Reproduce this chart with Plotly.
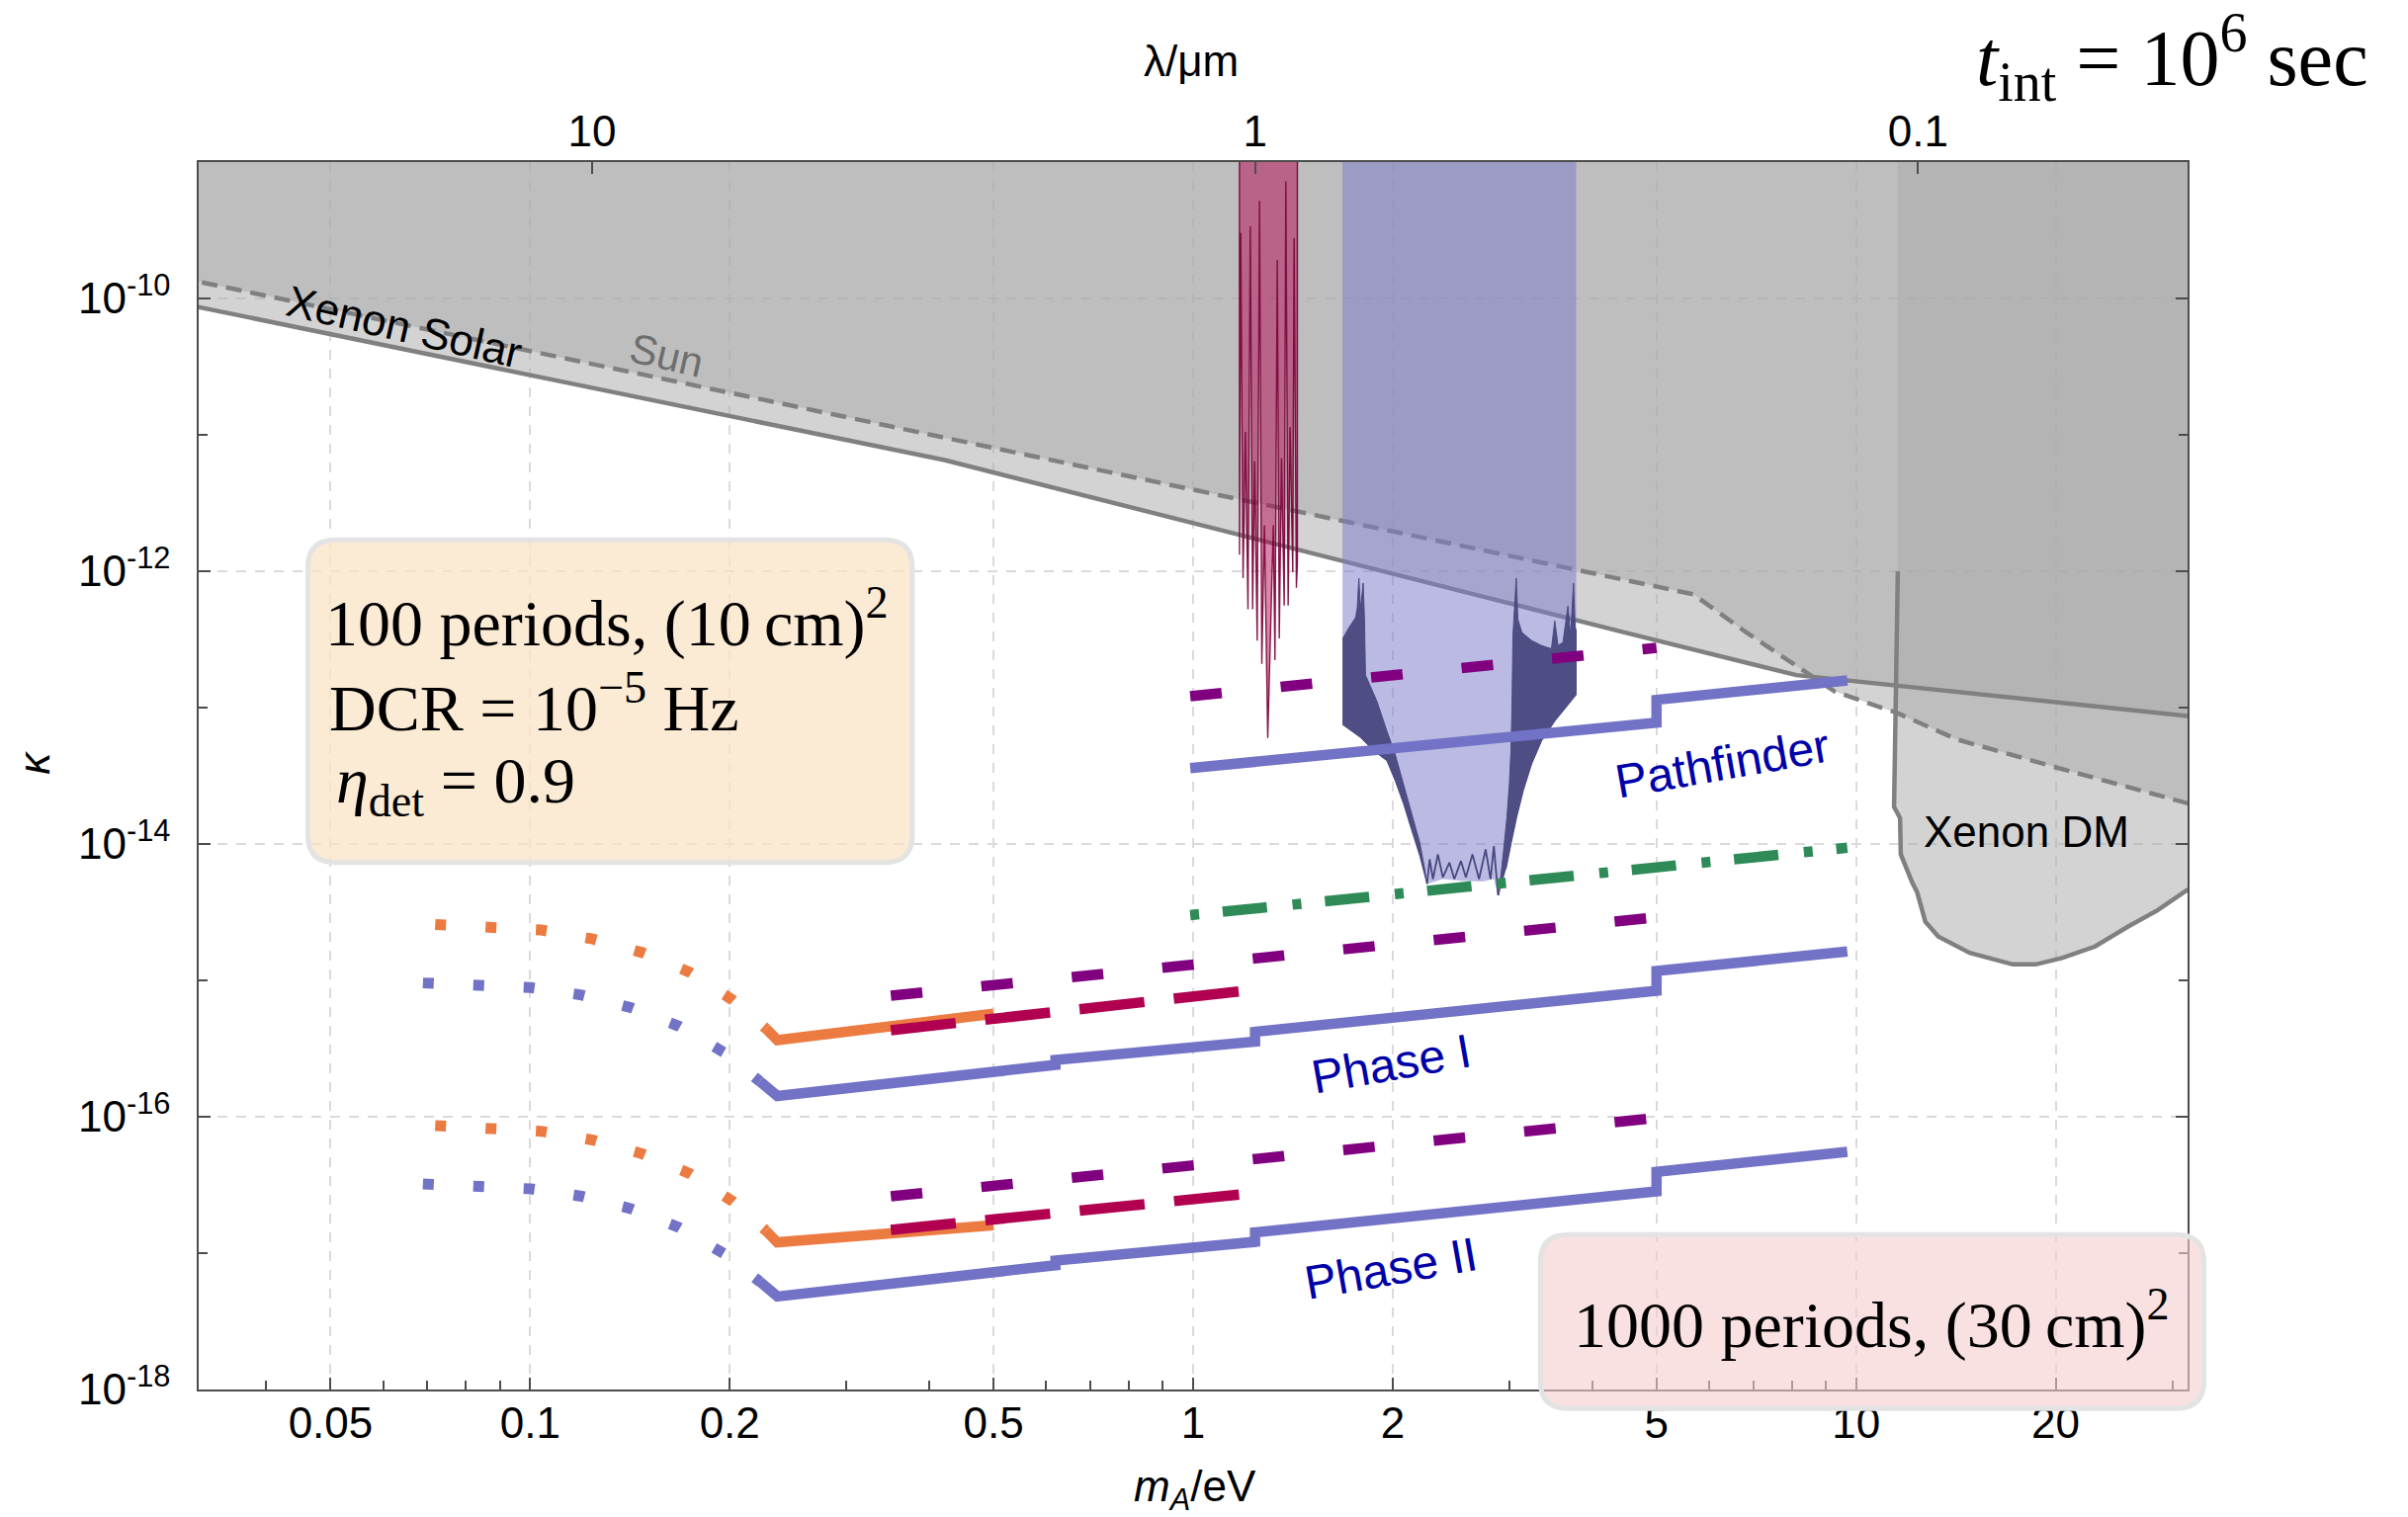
import math
import plotly.graph_objects as go

HC_EV_UM = 1.2398          # lambda[um] = HC / m[eV]
K_TOP = 2e-9               # polygons are closed above the plotted range

# ---------------- existing bounds ----------------
solar_m = [0.0294, 0.4217, 4.47, 8.13, 33.0]
solar_k = [9.3e-11, 6.53e-12, 3.56e-13, 1.73e-13, 8.5e-14]

sun_m = [0.0294, 5.68, 6.83, 9.29, 11.53, 14.18, 19.97, 33.0]
sun_k = [1.43e-10, 6.78e-13, 3.56e-13, 1.31e-13, 9.14e-14, 5.85e-14, 3.66e-14, 1.88e-14]

dm_m = [11.56, 11.41, 11.65, 11.68, 12.15, 12.36, 12.72, 13.31, 14.84, 17.23,
        18.66, 20.44, 22.93, 25.69, 28.48, 31.5, 33.0]
dm_k = [1.0e-12, 1.87e-14, 1.55e-14, 8.40e-15, 5.24e-15, 4.44e-15, 2.69e-15, 2.09e-15,
        1.59e-15, 1.31e-15, 1.31e-15, 1.46e-15, 1.77e-15, 2.47e-15, 3.26e-15, 4.56e-15, 4.9e-15]

# narrow-band exclusion (oscillating lower edge)
red_m = [1.1745, 1.1799, 1.1894, 1.1990, 1.2099, 1.2196, 1.2295, 1.2379, 1.2493, 1.2594,
         1.2695, 1.2811, 1.2958, 1.3213, 1.3288, 1.3395, 1.3488, 1.3595, 1.3721, 1.3799,
         1.3910, 1.4006, 1.4135, 1.4199, 1.4315, 1.4364]
red_k = [1.32e-12, 3.02e-10, 8.89e-13, 1.05e-11, 5.26e-13, 3.38e-10, 5.26e-13, 6.41e-12, 3.10e-13, 5.19e-10,
         2.09e-13, 2.17e-12, 5.98e-14, 2.17e-12, 2.23e-13, 1.91e-10, 3.21e-13, 6.72e-12, 5.61e-13, 7.21e-10,
         5.61e-13, 1.14e-11, 9.82e-13, 2.77e-10, 7.55e-13, 1.16e-12]

# broad-band exclusion: outer edge
blue_m = [1.6797, 1.7886, 1.8723, 1.9600, 2.0168, 2.0752, 2.1355, 2.1974, 2.2353, 2.2533,
          2.3804, 2.5494, 2.7304, 2.8419, 2.8844, 2.9647, 3.0194, 3.0787, 3.1498, 3.2412,
          3.3546, 3.5114, 3.7824]
blue_k = [7.52e-14, 6.03e-14, 4.82e-14, 4.08e-14, 2.92e-14, 1.99e-14, 1.27e-14, 8.17e-15, 5.85e-15, 5.09e-15,
          5.53e-15, 5.38e-15, 5.30e-15, 5.53e-15, 4.20e-15, 6.54e-15, 1.02e-14, 1.59e-14, 2.48e-14, 3.86e-14,
          5.70e-14, 7.95e-14, 1.24e-13]
# dense-oscillation bands of the broad-band edge
blue_band_l_m = [1.6797, 1.7185, 1.7582, 1.7683, 1.7784, 1.7886, 1.8050, 1.8133, 1.8196, 1.8938,
                 1.9600, 2.0168, 2.0752, 2.1355, 2.1974, 2.2353, 2.2533, 2.1974, 2.1355, 2.0752,
                 2.0168, 1.9600, 1.8723, 1.7886, 1.6797]
blue_band_l_k = [3.18e-13, 3.87e-13, 4.57e-13, 5.40e-13, 8.89e-13, 5.25e-13, 8.18e-13, 4.45e-13, 1.73e-13, 1.11e-13,
                 6.73e-14, 4.56e-14, 2.77e-14, 1.68e-14, 1.02e-14, 6.54e-15, 5.09e-15, 8.17e-15, 1.27e-14, 1.99e-14,
                 2.92e-14, 4.08e-14, 4.82e-14, 6.03e-14, 7.52e-14]
blue_band_r_m = [2.8907, 2.9410, 2.9748, 2.9992, 3.0159, 3.0263, 3.0366, 3.0717, 3.0893, 3.1320,
                 3.2412, 3.3546, 3.4715, 3.5114, 3.5517, 3.6132, 3.6757, 3.7096, 3.7479, 3.7694,
                 3.7824, 3.7824, 3.5114, 3.3546, 3.2412, 3.1498, 3.0787, 3.0194, 2.9647]
blue_band_r_k = [4.20e-15, 9.12e-15, 1.59e-14, 2.77e-14, 4.82e-14, 9.93e-14, 3.37e-13, 8.89e-13, 4.45e-13, 3.56e-13,
                 3.10e-13, 2.85e-13, 2.70e-13, 4.33e-13, 2.85e-13, 3.01e-13, 5.55e-13, 3.37e-13, 8.18e-13, 3.76e-13,
                 3.76e-13, 1.24e-13, 7.95e-14, 5.70e-14, 3.86e-14, 2.48e-14, 1.59e-14, 1.02e-14, 6.54e-15]
blue_floor_m = [2.2533, 2.2740, 2.3001, 2.3399, 2.3804, 2.4355, 2.4776, 2.5349, 2.5787, 2.6384,
                2.6994, 2.7618, 2.8096, 2.8419, 2.8844]
blue_floor_k = [5.09e-15, 7.72e-15, 5.53e-15, 8.39e-15, 5.69e-15, 7.31e-15, 5.53e-15, 7.51e-15, 5.69e-15, 8.39e-15,
                5.53e-15, 9.12e-15, 5.53e-15, 9.64e-15, 4.20e-15]

# ---------------- projected sensitivities ----------------
pf_m = [0.99, 5.0, 5.0, 9.7]
pf_k = [3.60e-14, 7.76e-14, 1.14e-13, 1.58e-13]

ph_m = [0.222, 0.236, 0.62, 0.62, 1.24, 1.24, 5.0, 5.0, 9.7]
ph1_k = [1.82e-16, 1.42e-16, 2.40e-16, 2.61e-16, 3.56e-16, 4.19e-16, 8.40e-16, 1.17e-15, 1.63e-15]
ph2_k = [6.18e-18, 4.81e-18, 8.15e-18, 8.83e-18, 1.21e-17, 1.42e-17, 2.84e-17, 3.95e-17, 5.53e-17]

or_m = [0.2268, 0.236, 0.50]
or1_k = [4.43e-16, 3.65e-16, 5.69e-16]
or2_k = [1.46e-17, 1.20e-17, 1.60e-17]

or_dot_m = [0.0719, 0.0872, 0.1039, 0.1243, 0.1475, 0.1745, 0.2020, 0.2268]
or1_dot_k = [2.57e-15, 2.49e-15, 2.34e-15, 2.01e-15, 1.60e-15, 1.14e-15, 7.18e-16, 4.43e-16]
or2_dot_k = [8.61e-17, 8.34e-17, 7.83e-17, 6.75e-17, 5.35e-17, 3.81e-17, 2.40e-17, 1.46e-17]

bl_dot_m = [0.0689, 0.0834, 0.1003, 0.1196, 0.1417, 0.1678, 0.1959, 0.222]
bl1_dot_k = [9.57e-16, 9.40e-16, 8.85e-16, 7.80e-16, 6.32e-16, 4.60e-16, 2.97e-16, 1.82e-16]
bl2_dot_k = [3.21e-17, 3.15e-17, 2.96e-17, 2.61e-17, 2.12e-17, 1.54e-17, 9.93e-18, 6.18e-18]

cr_m = [0.35, 1.2]
cr1_k = [4.31e-16, 8.40e-16]
cr2_k = [1.48e-17, 2.72e-17]

pu_m = [0.35, 5.0]
pu1_k = [7.73e-16, 2.90e-15]
pu2_k = [2.61e-17, 9.80e-17]
pu_pf_m = [0.99, 5.0]
pu_pf_k = [1.21e-13, 2.74e-13]

gr_m = [0.99, 9.7]
gr_k = [3.01e-15, 9.38e-15]

# ---------------- axis ticks ----------------
x_ticks = [0.05, 0.1, 0.2, 0.5, 1, 2, 5, 10, 20]
x_ticktext = ["0.05", "0.1", "0.2", "0.5", "1", "2", "5", "10", "20"]
x_minor = [0.04, 0.06, 0.07, 0.08, 0.09, 0.3, 0.4, 0.6, 0.7, 0.8, 0.9,
           3, 4, 6, 7, 8, 9, 30]
y_ticks = [1e-18, 1e-16, 1e-14, 1e-12, 1e-10]
y_ticktext = ["10<sup>-18</sup>", "10<sup>-16</sup>", "10<sup>-14</sup>",
              "10<sup>-12</sup>", "10<sup>-10</sup>"]
y_minor = [1e-17, 1e-15, 1e-13, 1e-11]
lam_ticks = [10, 1, 0.1]
lam_ticktext = ["10", "1", "0.1"]

# ---------------- styles ----------------
GRAY_FILL = "rgba(171,171,171,0.52)"
GRAY_LINE = "#808080"
BLUE = "#7272C6"
ORANGE = "#EC7B42"
PURPLE = "#800080"
CRIMSON = "#B0004F"
GREEN = "#2E8B57"
LABEL_BLUE = "#0000A8"
SANS = "Liberation Sans, Arial, sans-serif"
SERIF = "Liberation Serif, Times New Roman, serif"
W_SOLID = 10.5
W_DASH = 10.5
W_DOT = 11

fig = go.Figure()


def add(x, y, **kw):
    kw.setdefault("mode", "lines")
    fig.add_trace(go.Scatter(x=x, y=y, hoverinfo="skip", showlegend=False, **kw))


def region_above(m, k, fillcolor, line=None):
    """Area between a boundary curve and the top of the plot."""
    add([m[0]] + m + [m[-1]], [K_TOP] + k + [K_TOP], fill="toself",
        fillcolor=fillcolor, line=line or dict(width=0, simplify=False))


# gray excluded regions
add(solar_m + [solar_m[-1], solar_m[0]], solar_k + [K_TOP, K_TOP],
    fill="toself", fillcolor=GRAY_FILL, line=dict(width=0))
add(sun_m + [sun_m[-1], sun_m[0]], sun_k + [K_TOP, K_TOP],
    fill="toself", fillcolor=GRAY_FILL, line=dict(width=0))
region_above(dm_m, dm_k, GRAY_FILL)
add(solar_m, solar_k, line=dict(color=GRAY_LINE, width=4.5))
add(sun_m, sun_k, line=dict(color=GRAY_LINE, width=4.5, dash="16px,9px"))
add(dm_m, dm_k, line=dict(color=GRAY_LINE, width=4.5))

# narrow-band exclusion
region_above(red_m, red_k, "rgba(179,0,77,0.48)",
             line=dict(color="rgba(120,0,55,0.9)", width=1.4, simplify=False))

# broad-band exclusion
region_above(blue_m, blue_k, "rgba(122,122,200,0.52)")
add(blue_band_l_m, blue_band_l_k, fill="toself", fillcolor="rgba(72,72,128,0.95)",
    line=dict(color="rgba(72,72,128,0.95)", width=1, simplify=False))
add(blue_band_r_m, blue_band_r_k, fill="toself", fillcolor="rgba(72,72,128,0.95)",
    line=dict(color="rgba(72,72,128,0.95)", width=1, simplify=False))
add(blue_floor_m, blue_floor_k, line=dict(color="rgb(72,72,128)", width=1.8, simplify=False))

# projections: low-mass extrapolations (dotted)
DOT = "11px,40px"
for ky in (or1_dot_k, or2_dot_k):
    add(or_dot_m, ky, line=dict(color=ORANGE, width=W_DOT, dash=DOT))
for ky in (bl1_dot_k, bl2_dot_k):
    add(bl_dot_m, ky, line=dict(color=BLUE, width=W_DOT, dash=DOT))

# projections: solid curves
for ky in (or1_k, or2_k):
    add(or_m, ky, line=dict(color=ORANGE, width=W_SOLID))
for ky in (ph1_k, ph2_k):
    add(ph_m, ky, line=dict(color=BLUE, width=W_SOLID))
add(pf_m, pf_k, line=dict(color=BLUE, width=W_SOLID))

# dashed alternatives
for ky in (cr1_k, cr2_k):
    add(cr_m, ky, line=dict(color=CRIMSON, width=W_DASH, dash="66px,30px"))
for mx, ky in ((pu_m, pu1_k), (pu_m, pu2_k), (pu_pf_m, pu_pf_k)):
    add(mx, ky, line=dict(color=PURPLE, width=W_DASH, dash="32px,60px"))
add(gr_m, gr_k, line=dict(color=GREEN, width=W_DASH, dash="9px,24px,45px,26px"))

# dummy trace so the wavelength axis is rendered
fig.add_trace(go.Scatter(x=[1.0], y=[1e-9], xaxis="x2", yaxis="y", mode="markers",
                         marker=dict(opacity=0), hoverinfo="skip", showlegend=False))

axis_common = dict(showline=True, linecolor="#4d4d4d", linewidth=1.5,
                   tickcolor="#4d4d4d", tickwidth=1.5, zeroline=False,
                   tickfont=dict(family=SANS, size=44, color="black"))

fig.update_layout(
    width=2436, height=1535,
    margin=dict(l=201, r=223, t=164, b=129),
    paper_bgcolor="white", plot_bgcolor="white", showlegend=False,
    xaxis=dict(type="log", range=[-1.5, 1.5], tickvals=x_ticks, ticktext=x_ticktext,
               ticks="inside", ticklen=12, mirror=False,
               showgrid=True, gridcolor="#dadada", gridwidth=1.5, griddash="10px,9px",
               minor=dict(tickvals=x_minor, ticks="inside", ticklen=9,
                          tickcolor="#4d4d4d", tickwidth=1.5, showgrid=False),
               ticklabelstandoff=-6, **axis_common),
    xaxis2=dict(type="log", overlaying="x", side="top", anchor="y",
                range=[math.log10(HC_EV_UM / 10 ** -1.5), math.log10(HC_EV_UM / 10 ** 1.5)],
                tickvals=lam_ticks, ticktext=lam_ticktext, ticks="inside", ticklen=12,
                showgrid=False, ticklabelstandoff=-3, **axis_common),
    yaxis=dict(type="log", range=[-18, -9], tickvals=y_ticks, ticktext=y_ticktext,
               ticks="inside", ticklen=12, mirror="ticks",
               showgrid=True, gridcolor="#dadada", gridwidth=1.5, griddash="10px,9px",
               minor=dict(tickvals=y_minor, ticks="inside", ticklen=9,
                          tickcolor="#4d4d4d", tickwidth=1.5, showgrid=False),
               ticklabelstandoff=18, **axis_common),
)


# rounded parameter boxes (paper coordinates)
def rounded_box(x0, y0, x1, y1, fill, r_px=28):
    rx = r_px / 2012.5
    ry = r_px / 1241.9
    path = (f"M {x0 + rx},{y0} L {x1 - rx},{y0} Q {x1},{y0} {x1},{y0 + ry} "
            f"L {x1},{y1 - ry} Q {x1},{y1} {x1 - rx},{y1} "
            f"L {x0 + rx},{y1} Q {x0},{y1} {x0},{y1 - ry} "
            f"L {x0},{y0 + ry} Q {x0},{y0} {x0 + rx},{y0} Z")
    fig.add_shape(type="path", path=path, xref="paper", yref="paper",
                  fillcolor=fill, line=dict(color="#e3e3e3", width=5), layer="above")


rounded_box(0.0549, 0.4293, 0.3588, 0.6923, "rgba(250,226,196,0.72)")
rounded_box(0.6746, -0.0155, 1.0082, 0.1263, "rgba(245,205,205,0.6)")


def note(text, x, y, size, color="black", family=SANS, angle=0, xanchor="center",
         xref="x", yref="y"):
    fig.add_annotation(text=text, x=x, y=y, xref=xref, yref=yref, showarrow=False,
                       textangle=angle, xanchor=xanchor, yanchor="middle",
                       font=dict(family=family, size=size, color=color))


# curve labels (positions in log10 data units)
note("Xenon Solar", -1.190, -10.205, 44, angle=13)
note("Sun", -0.794, -10.42, 42, color="#6e6e6e", angle=13)
note("Xenon DM", 1.257, -13.91, 44)
note("Pathfinder", 0.799, -13.41, 48, color=LABEL_BLUE, angle=-10)
note("Phase I", 0.2986, -15.61, 48, color=LABEL_BLUE, angle=-10)
note("Phase II", 0.2986, -17.11, 48, color=LABEL_BLUE, angle=-10)

# box texts
note("100 periods, (10\u2009cm)<sup>2</sup>", 0.0625, 0.6284, 66, family=SERIF,
     xanchor="left", xref="paper", yref="paper")
note("DCR = 10<sup>\u22125</sup> Hz", 0.0645, 0.5591, 66, family=SERIF,
     xanchor="left", xref="paper", yref="paper")
note("<i>\u03b7</i><sub>det</sub> = 0.9", 0.0680, 0.4923, 66, family=SERIF,
     xanchor="left", xref="paper", yref="paper")
note("1000 periods, (30\u2009cm)<sup>2</sup>", 0.8410, 0.0567, 66, family=SERIF,
     xref="paper", yref="paper")
note("<i>t</i><sub>int</sub> = 10<sup>6</sup> sec", 0.9924, 1.0857, 80, family=SERIF,
     xref="paper", yref="paper")

# axis titles
note("<i>m</i><sub><i>A</i></sub>/eV", 0.5008, -0.0815, 44, xref="paper", yref="paper")
note("\u03bb/\u03bcm", 0.4992, 1.0825, 44, xref="paper", yref="paper")
note("<i>\u03ba</i>", -0.0829, 0.5108, 44, angle=-90, xref="paper", yref="paper")

fig.write_html("out.html")
